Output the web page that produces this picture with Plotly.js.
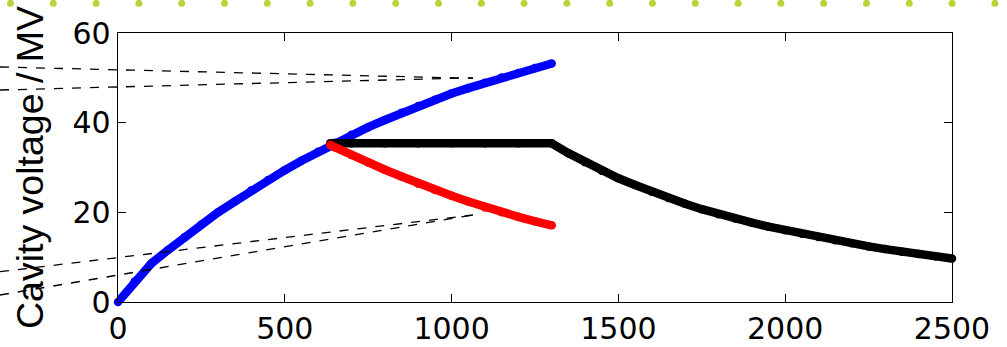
<!DOCTYPE html>
<html>
<head>
<meta charset="utf-8">
<script src="https://cdn.plot.ly/plotly-3.0.1.min.js"></script>
<style>
html,body{margin:0;padding:0;background:#fff;}
#chart{width:1007px;height:347px;}
</style>
</head>
<body>
<div id="chart"></div>
<script>
// ---- data ----
const blueT = [0,50,100,150,200,250,300,350,400,450,500,550,600,650,700,750,800,850,900,950,1000,1050,1100,1150,1200,1250,1300];
const blueV = [0,4.6,8.6,11.6,14.5,17.3,20.0,22.4,24.9,27.2,29.4,31.5,33.5,35.5,37.3,39.0,40.6,42.2,43.7,45.1,46.5,47.7,48.9,50.1,51.1,52.2,53.2];

const redT = [636,650,700,750,800,850,900,950,1000,1050,1100,1150,1200,1250,1300];
const redV = [35.0,34.5,32.8,31.1,29.5,28.0,26.4,25.0,23.7,22.4,21.1,20.0,19.0,18.0,17.1];

const blackT = [636,700,800,900,1000,1100,1200,1300,1350,1400,1450,1500,1550,1600,1650,1700,1750,1800,1850,1900,1950,2000,2050,2100,2150,2200,2250,2300,2350,2400,2450,2500];
const blackV = [35.4,35.4,35.4,35.4,35.4,35.4,35.4,35.4,33.2,31.2,29.3,27.6,26.1,24.6,23.2,21.9,20.7,19.6,18.6,17.7,16.8,16.0,15.2,14.5,13.8,13.1,12.4,11.8,11.2,10.7,10.2,9.7];

const xTicks = [0,500,1000,1500,2000,2500];
const yTicks = [0,20,40,60];
const yTitle = "Cavity voltage / MV";

// ---- layout helpers (pixel -> paper) ----
const W = 1007, H = 347;
const M = {l:118, r:55, t:33, b:45};
const pw = W - M.l - M.r, ph = H - M.t - M.b;
const px = x => (x - M.l) / pw;
const py = y => (H - M.b - y) / ph;

const shapes = [];
// decorative dotted row at top
for (let i = 0; i < 24; i++) {
  const cx = px(10.5 + i * 42.8), cy = py(3.3);
  shapes.push({type:'circle', xref:'paper', yref:'paper', xsizemode:'pixel', ysizemode:'pixel',
    xanchor:cx, yanchor:cy, x0:-3.5, x1:3.5, y0:-3.5, y1:3.5,
    fillcolor:'#b9d437', line:{width:0}});
}
// dashed pointer lines
const dashLines = [
  [0,67,473,78.3],[0,90,473,77.8],
  [0,271.7,473,215],[0,295,473,215]
];
dashLines.forEach(d => shapes.push({type:'line', xref:'paper', yref:'paper',
  x0:px(d[0]), y0:py(d[1]), x1:px(d[2]), y1:py(d[3]),
  line:{color:'#000', width:1.3, dash:'dash'}}));

const tickFont = "DejaVu Sans, sans-serif";
const titleFont = "Liberation Sans, Arial, sans-serif";
const traces = [
  {x:blueT, y:blueV, mode:'lines+markers', line:{color:'#0000ff', width:8.5}, marker:{color:'#0000ff', size:8.5}, cliponaxis:false, hoverinfo:'skip'},
  {x:blackT, y:blackV, mode:'lines+markers', line:{color:'#000000', width:8.5}, marker:{color:'#000000', size:8.5}, cliponaxis:false, hoverinfo:'skip'},
  {x:redT, y:redV, mode:'lines+markers', line:{color:'#ff0000', width:8.5}, marker:{color:'#ff0000', size:8.5}, cliponaxis:false, hoverinfo:'skip'}
];

const layout = {
  width:W, height:H, margin:M, showlegend:false,
  paper_bgcolor:'#fff', plot_bgcolor:'#fff',
  font:{family:tickFont, color:'#000', size:30},
  xaxis:{range:[0,2500], tickvals:xTicks, ticktext:xTicks.map(String), ticks:'inside', ticklen:8, tickwidth:1, tickcolor:'#000',
    showline:true, linecolor:'#000', linewidth:1.3, mirror:'ticks', showgrid:false, zeroline:false,
    tickfont:{size:30, family:tickFont}},
  yaxis:{range:[0,60], tickvals:yTicks, ticktext:yTicks.map(String), ticks:'inside', ticklen:8, tickwidth:1, tickcolor:'#000',
    showline:true, linecolor:'#000', linewidth:1.3, mirror:'ticks', showgrid:false, zeroline:false,
    tickfont:{size:30, family:tickFont},
    title:{text:yTitle, font:{size:37.5, family:titleFont}, standoff:17}},
  shapes:shapes
};
Plotly.newPlot('chart', traces, layout, {staticPlot:true, displayModeBar:false});
</script>
</body>
</html>
